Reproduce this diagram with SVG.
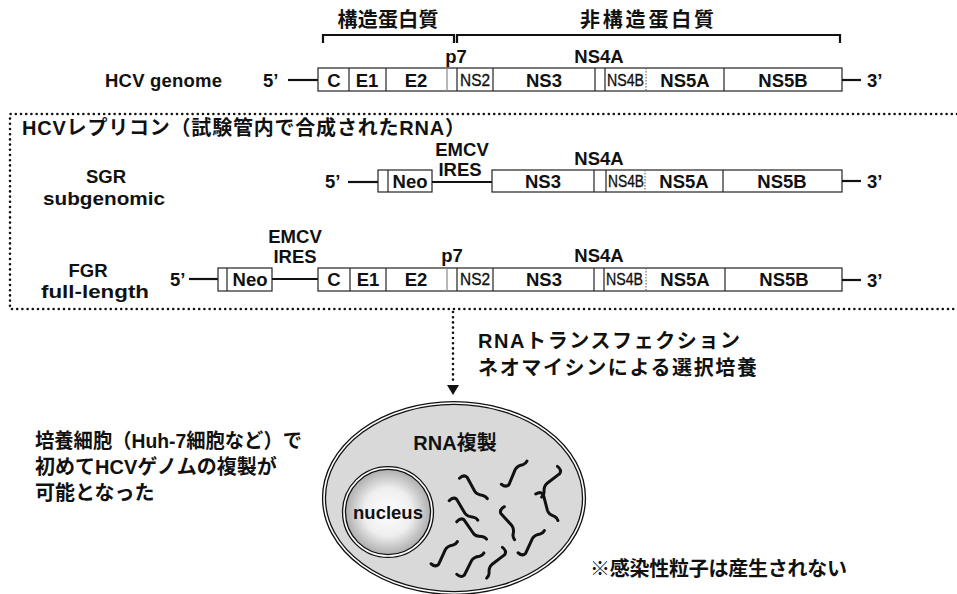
<svg xmlns="http://www.w3.org/2000/svg" width="957" height="594" viewBox="0 0 957 594">
  <style>
    text { font-family: "Liberation Sans", "Noto Sans CJK JP", sans-serif; fill: #111; }
    .lbl { font-size: 18.5px; font-weight: bold; }
    .mid { text-anchor: middle; }
    .nar { font-size: 17px; font-weight: normal; stroke: #111; stroke-width: 0.35; }
    .jp { font-size: 20px; font-weight: bold; }
    .box { fill: #fff; stroke: #222; stroke-width: 1.2; }
    .div { stroke: #222; stroke-width: 1.2; }
    .divg { stroke: #888; stroke-width: 1.2; }
    .divd { stroke: #555; stroke-width: 1; stroke-dasharray: 1.5 1.5; }
    .ln { stroke: #111; stroke-width: 2.2; fill: none; }
    .dot { stroke: #111; stroke-width: 2.6; stroke-linecap: round; stroke-dasharray: 0 5.2; fill: none; }
    .sq { stroke: #111; stroke-width: 3; fill: none; stroke-linecap: round; stroke-linejoin: round; }
  </style>
  <defs>
    <radialGradient id="nucFill" cx="0.5" cy="0.5" r="0.5">
      <stop offset="0" stop-color="#ffffff"/>
      <stop offset="0.55" stop-color="#eeeeee"/>
      <stop offset="1" stop-color="#a9a9a9"/>
    </radialGradient>
    <!-- one RNA strand, reused with different turns -->
    <path id="wave" class="sq" d="M-16,-4 Q-13,-9 -9,-7 L2,5 Q5,8 11,7 Q14,7 16,9"/>
  </defs>

  <!-- protein class labels and brackets -->
  <g id="structural">
    <text class="jp mid" x="388" y="27" textLength="101" lengthAdjust="spacing">構造蛋白質</text>
    <path class="ln" d="M323,43 V35 H454 V43" stroke-width="1.8"/>
  </g>
  <g id="nonstructural">
    <text class="jp mid" x="647" y="27" textLength="134" lengthAdjust="spacing">非構造蛋白質</text>
    <path class="ln" d="M457,43 V35 H840 V43" stroke-width="1.8"/>
  </g>

  <!-- HCV genome -->
  <g id="genome">
    <text class="lbl" x="105" y="87" textLength="117" lengthAdjust="spacing">HCV genome</text>
    <text class="lbl" x="263" y="87">5’</text>
    <line class="ln" x1="288" y1="80" x2="318" y2="80"/>
    <rect class="box" x="318" y="68" width="524" height="23"/>
    <line class="div" x1="349" y1="68" x2="349" y2="91"/>
    <line class="div" x1="386" y1="68" x2="386" y2="91"/>
    <line class="divg" x1="447" y1="68" x2="447" y2="91"/>
    <line class="div" x1="457" y1="68" x2="457" y2="91"/>
    <line class="div" x1="493" y1="68" x2="493" y2="91"/>
    <line class="div" x1="595" y1="68" x2="595" y2="91"/>
    <line class="div" x1="605" y1="68" x2="605" y2="91"/>
    <line class="divd" x1="646" y1="68" x2="646" y2="91"/>
    <line class="div" x1="724" y1="68" x2="724" y2="91"/>
    <line class="ln" x1="842" y1="80" x2="861" y2="80"/>
    <text class="lbl" x="867" y="87">3’</text>
    <text class="lbl mid" x="334" y="87">C</text>
    <text class="lbl mid" x="367" y="87">E1</text>
    <text class="lbl mid" x="416" y="87">E2</text>
    <text class="nar" x="460" y="86" textLength="30" lengthAdjust="spacingAndGlyphs">NS2</text>
    <text class="lbl mid" x="544" y="87">NS3</text>
    <text class="nar" x="607" y="86" textLength="37" lengthAdjust="spacingAndGlyphs">NS4B</text>
    <text class="lbl mid" x="685" y="87">NS5A</text>
    <text class="lbl mid" x="783" y="87">NS5B</text>
    <text class="lbl mid" x="456" y="63">p7</text>
    <text class="lbl mid" x="599" y="63">NS4A</text>
  </g>

  <!-- replicon frame -->
  <g id="replicon-frame">
    <path class="dot" d="M957,114 H10 V309 H957"/>
    <text class="jp" x="22" y="135" textLength="443" lengthAdjust="spacing">HCVレプリコン（試験管内で合成されたRNA）</text>
  </g>

  <!-- subgenomic replicon -->
  <g id="sgr">
    <text class="lbl mid" x="106" y="183">SGR</text>
    <text class="lbl mid" x="104" y="205" textLength="122" lengthAdjust="spacingAndGlyphs">subgenomic</text>
    <text class="lbl" x="325" y="188">5’</text>
    <line class="ln" x1="348" y1="182" x2="378" y2="182"/>
    <rect class="box" x="378" y="170" width="54" height="22"/>
    <line class="div" x1="388" y1="170" x2="388" y2="192"/>
    <text class="lbl mid" x="410" y="188">Neo</text>
    <line class="ln" x1="432" y1="182" x2="492" y2="182"/>
    <text class="lbl mid" x="462" y="156">EMCV</text>
    <text class="lbl mid" x="460" y="176">IRES</text>
    <rect class="box" x="492" y="170" width="350" height="22"/>
    <line class="div" x1="594" y1="170" x2="594" y2="192"/>
    <line class="div" x1="606" y1="170" x2="606" y2="192"/>
    <line class="divd" x1="645" y1="170" x2="645" y2="192"/>
    <line class="div" x1="723" y1="170" x2="723" y2="192"/>
    <text class="lbl mid" x="543" y="188">NS3</text>
    <text class="nar" x="608" y="187" textLength="36" lengthAdjust="spacingAndGlyphs">NS4B</text>
    <text class="lbl mid" x="684" y="188">NS5A</text>
    <text class="lbl mid" x="782" y="188">NS5B</text>
    <text class="lbl mid" x="599" y="165">NS4A</text>
    <line class="ln" x1="842" y1="181" x2="861" y2="181"/>
    <text class="lbl" x="867" y="188">3’</text>
  </g>

  <!-- full-length replicon -->
  <g id="fgr">
    <text class="lbl mid" x="88" y="277">FGR</text>
    <text class="lbl mid" x="95" y="298" textLength="108" lengthAdjust="spacingAndGlyphs">full-length</text>
    <text class="lbl" x="170" y="286">5’</text>
    <line class="ln" x1="189" y1="279" x2="218" y2="279"/>
    <rect class="box" x="218" y="268" width="54" height="23"/>
    <line class="div" x1="227" y1="268" x2="227" y2="291"/>
    <text class="lbl mid" x="250" y="286">Neo</text>
    <line class="ln" x1="272" y1="279" x2="318" y2="279"/>
    <text class="lbl mid" x="295" y="243">EMCV</text>
    <text class="lbl mid" x="295" y="263">IRES</text>
    <rect class="box" x="318" y="268" width="524" height="23"/>
    <line class="div" x1="350" y1="268" x2="350" y2="291"/>
    <line class="div" x1="386" y1="268" x2="386" y2="291"/>
    <line class="divg" x1="447" y1="268" x2="447" y2="291"/>
    <line class="div" x1="457" y1="268" x2="457" y2="291"/>
    <line class="div" x1="493" y1="268" x2="493" y2="291"/>
    <line class="div" x1="594" y1="268" x2="594" y2="291"/>
    <line class="div" x1="604" y1="268" x2="604" y2="291"/>
    <line class="divd" x1="646" y1="268" x2="646" y2="291"/>
    <line class="div" x1="725" y1="268" x2="725" y2="291"/>
    <text class="lbl mid" x="334" y="286">C</text>
    <text class="lbl mid" x="368" y="286">E1</text>
    <text class="lbl mid" x="416" y="286">E2</text>
    <text class="nar" x="460" y="285" textLength="30" lengthAdjust="spacingAndGlyphs">NS2</text>
    <text class="lbl mid" x="544" y="286">NS3</text>
    <text class="nar" x="606" y="285" textLength="37" lengthAdjust="spacingAndGlyphs">NS4B</text>
    <text class="lbl mid" x="685" y="286">NS5A</text>
    <text class="lbl mid" x="784" y="286">NS5B</text>
    <text class="lbl mid" x="452" y="262">p7</text>
    <text class="lbl mid" x="599" y="262">NS4A</text>
    <line class="ln" x1="842" y1="280" x2="861" y2="280"/>
    <text class="lbl" x="867" y="287">3’</text>
  </g>

  <!-- transfection step -->
  <g id="connectors">
    <path class="dot" d="M453,312 V384"/>
    <path d="M447,385 L459,385 L453,395 Z" fill="#111"/>
  </g>
  <g id="step-label">
    <text class="jp" x="478" y="348" textLength="262" lengthAdjust="spacing">RNAトランスフェクション</text>
    <text class="jp" x="478" y="375" textLength="279" lengthAdjust="spacing">ネオマイシンによる選択培養</text>
  </g>

  <!-- cultured cell -->
  <g id="cell">
    <ellipse cx="454" cy="498" rx="130" ry="95" fill="#d9d9d9" stroke="#111" stroke-width="4.2"/>
    <ellipse cx="454" cy="498" rx="130" ry="95" fill="none" stroke="#fff" stroke-width="1.6"/>
    <text class="jp mid" x="455" y="450">RNA複製</text>
  </g>
  <g id="nucleus">
    <circle cx="388" cy="512" r="44" fill="url(#nucFill)" stroke="#111" stroke-width="4.2"/>
    <circle cx="388" cy="512" r="44" fill="none" stroke="#fff" stroke-width="1.6"/>
    <text class="lbl mid" x="388" y="519">nucleus</text>
  </g>
  <g id="rna">
    <use href="#wave" transform="translate(474,486) rotate(14)"/>
    <use href="#wave" transform="translate(515,475) rotate(-20) scale(1,-1)"/>
    <use href="#wave" transform="translate(552,482) rotate(95)"/>
    <use href="#wave" transform="translate(464,508) rotate(12)"/>
    <use href="#wave" transform="translate(548,505) rotate(28)"/>
    <use href="#wave" transform="translate(507,523) rotate(95) scale(1,-1)"/>
    <use href="#wave" transform="translate(472,528) rotate(8)"/>
    <use href="#wave" transform="translate(532,544) rotate(-18) scale(1,-1)"/>
    <use href="#wave" transform="translate(445,555) rotate(-18) scale(1,-1)"/>
    <use href="#wave" transform="translate(471,566) rotate(-16) scale(1,-1)"/>
    <use href="#wave" transform="translate(497,563) rotate(95)"/>
  </g>

  <!-- notes -->
  <g id="note-left">
    <text class="jp" x="35" y="448" textLength="267" lengthAdjust="spacingAndGlyphs">培養細胞（Huh-7細胞など）で</text>
    <text class="jp" x="35" y="474">初めてHCVゲノムの複製が</text>
    <text class="jp" x="35" y="500">可能となった</text>
  </g>
  <g id="note-right">
    <text class="jp" x="590" y="576" textLength="257" lengthAdjust="spacing">※感染性粒子は産生されない</text>
  </g>
</svg>
